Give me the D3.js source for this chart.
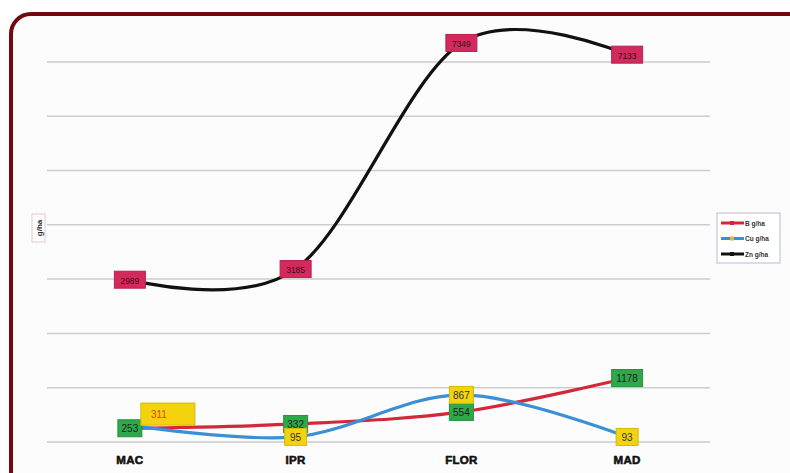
<!DOCTYPE html>
<html>
<head>
<meta charset="utf-8">
<script src="https://cdn.jsdelivr.net/npm/d3@7"></script>
<style>
  html, body { margin: 0; padding: 0; background: #fff; }
  svg { display: block; font-family: "Liberation Sans", Arial, sans-serif; }
</style>
</head>
<body>
<svg id="chart" width="790" height="473"></svg>
<script>
// Sampling sites and measured micronutrient amounts (g/ha)
const sites = ["MAC", "IPR", "FLOR", "MAD"];
const boron = [253, 332, 554, 1178];
const copper = [311, 95, 867, 93];
const zinc = [2989, 3185, 7349, 7133];
const yTicks = [0, 1000, 2000, 3000, 4000, 5000, 6000, 7000];
const seriesNames = ["B g/ha", "Cu g/ha", "Zn g/ha"];

const svg = d3.select("#chart");

// Framed panel
svg.append("rect")
  .attr("x", 11).attr("y", 14)
  .attr("width", 800).attr("height", 500)
  .attr("rx", 20).attr("ry", 20)
  .attr("fill", "#fcfcfc")
  .attr("stroke", "#730812")
  .attr("stroke-width", 4);

const x = d3.scaleBand().domain(sites).range([47, 710]);
const y = d3.scaleLinear().domain([0, 8000]).range([442, 7.6]);
const cx = d => x(d) + x.bandwidth() / 2;

// Horizontal gridlines
svg.append("g").selectAll("line")
  .data(yTicks)
  .join("line")
  .attr("x1", 47).attr("x2", 710)
  .attr("y1", d => y(d)).attr("y2", d => y(d))
  .attr("stroke", "#cdcdcd")
  .attr("stroke-width", 1.5);

// Category axis labels
const xAxis = d3.axisBottom(x).tickSize(0).tickPadding(14);
const gx = svg.append("g").attr("transform", `translate(0,${y(0)})`).call(xAxis);
gx.select(".domain").remove();
gx.selectAll("text")
  .attr("font-size", 11.5)
  .attr("font-weight", 900)
  .attr("fill", "#111")
  .attr("stroke", "#111")
  .attr("stroke-width", 0.6)
  .attr("font-family", "'Liberation Sans', Arial, sans-serif")
  .style("letter-spacing", "0.3px");

// Y axis title
const yt = svg.append("g").attr("transform", "translate(39,228) rotate(-90)");
yt.append("rect").attr("x", -14).attr("y", -7).attr("width", 28).attr("height", 13)
  .attr("fill", "#fff").attr("stroke", "#e4c6cf").attr("stroke-width", 1);
yt.append("text").attr("text-anchor", "middle").attr("dy", 3)
  .attr("font-size", 8).attr("font-weight", 700).attr("fill", "#333").text("g/ha");

const line = d3.line()
  .x((d, i) => cx(sites[i]))
  .y(d => y(d))
  .curve(d3.curveCardinal.tension(0));

const series = [
  { name: seriesNames[0], values: boron, color: "#d3283a", box: "#2ea84a", text: "#222" },
  { name: seriesNames[1], values: copper, color: "#3b8fd6", box: "#f3d40c", text: "#333" },
  { name: seriesNames[2], values: zinc, color: "#111111", box: "#d22a5c", text: "#3a0b18" }
];

series.forEach(s => {
  svg.append("path")
    .datum(s.values)
    .attr("d", line)
    .attr("fill", "none")
    .attr("stroke", s.color)
    .attr("stroke-width", 3.2)
    .attr("stroke-linecap", "round");
});

// Data label boxes: offsets relative to each point
const labelOffsets = {
  "B g/ha":  [[0, 0], [0, 0], [0, 0], [0, 0]],
  "Cu g/ha": [[38, -11], [0, 0], [0, 0], [0, 0]],
  "Zn g/ha": [[0, 0], [0, 0], [0, 0], [0, 0]]
};

series.forEach(s => {
  const g = svg.append("g");
  s.values.forEach((v, i) => {
    const [dx, dy] = labelOffsets[s.name][i];
    const px = cx(sites[i]) + dx, py = y(v) + dy;
    const label = String(v);
    const wide = s.name === "Cu g/ha" && i === 0;
    const w = wide ? 54 : Math.max(22, label.length * 7 + 3);
    const h = wide ? 22 : 17;
    g.append("rect")
      .attr("x", px - w / 2).attr("y", py - h / 2)
      .attr("width", w).attr("height", h)
      .attr("fill", s.box)
      .attr("stroke", d3.color(s.box).darker(0.4))
      .attr("stroke-width", 1);
    g.append("text")
      .attr("x", wide ? px - w / 2 + 10 : px)
      .attr("y", py + 4)
      .attr("text-anchor", wide ? "start" : "middle")
      .attr("font-size", s.name === "Zn g/ha" ? 8.5 : 10)
      .attr("fill", wide ? "#e2422a" : s.text)
      .text(label);
  });
});

// Legend
const lg = svg.append("g").attr("transform", "translate(717,213)");
lg.append("rect").attr("width", 63).attr("height", 50)
  .attr("fill", "#fff").attr("stroke", "#b9b9d6").attr("stroke-width", 1);
series.forEach((s, i) => {
  const yy = 10 + i * 15.5;
  lg.append("line").attr("x1", 4).attr("x2", 27).attr("y1", yy).attr("y2", yy)
    .attr("stroke", s.color).attr("stroke-width", 3);
  lg.append("rect").attr("x", 13).attr("y", yy - 2).attr("width", 4).attr("height", 4)
    .attr("fill", i === 1 ? "#f0b040" : s.color);
  lg.append("text").attr("x", 28).attr("y", yy + 2.5)
    .attr("font-size", 6.5).attr("font-weight", 700).attr("fill", "#333").text(s.name);
});
</script>
</body>
</html>
